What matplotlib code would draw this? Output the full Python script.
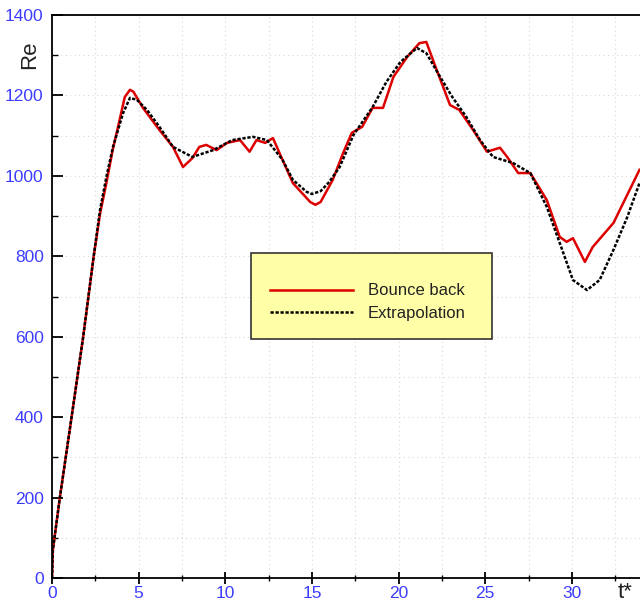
import matplotlib.pyplot as plt
from matplotlib.patches import Rectangle
from matplotlib.ticker import MultipleLocator

plt.rcParams['font.family'] = ['Liberation Sans', 'DejaVu Sans']

# Bounce back (red)
t_bb = [0, 0.05, 0.46, 1.13, 1.8, 2.4, 2.77, 3.15, 3.5, 3.8, 4.2, 4.5, 4.7, 5.25,
        6.2, 6.98, 7.56, 8.1, 8.5, 8.9, 9.5, 10.1, 10.85, 11.4, 11.8, 12.3, 12.75,
        13.3, 13.9, 14.9, 15.2, 15.5, 16.2, 16.8, 17.3, 17.9, 18.5, 19.1, 19.7,
        20.5, 21.2, 21.6, 22.2, 22.97, 23.5, 24.3, 25.1, 25.85, 26.25, 26.9, 27.6,
        28.55, 29.3, 29.7, 30.06, 30.75, 31.2, 32.4, 33.9]
re_bb = [0, 70, 202, 400, 600, 798, 905, 985, 1064, 1120, 1196, 1214, 1209, 1169,
         1114, 1072, 1022, 1044, 1072, 1077, 1064, 1082, 1089, 1060, 1089, 1082, 1094,
         1040, 982, 935, 928, 935, 990, 1057, 1107, 1122, 1169, 1169, 1246,
         1296, 1330, 1333, 1263, 1176, 1164, 1114, 1060, 1070, 1048, 1007, 1007,
         940, 848, 836, 845, 786, 823, 883, 1015]

# Extrapolation (black dashed)
t_ex = [0, 0.05, 0.46, 1.13, 1.8, 2.4, 2.77, 3.15, 3.52, 4.1, 4.5, 4.9, 5.48,
        6.2, 6.98, 8.1, 9.3, 10.4, 11.6, 12.4, 13.3, 13.9, 14.7, 15.0, 15.5, 16.0,
        16.6, 17.4, 18.5, 19.3, 20.1, 21.06, 21.6, 22.4, 23.1, 23.9, 24.7, 25.45,
        26.6, 27.6, 28.55, 29.3, 30.06, 30.87, 31.6, 32.4, 33.2, 33.9]
re_ex = [0, 70, 202, 400, 600, 798, 915, 1000, 1072, 1156, 1194, 1189, 1164,
         1122, 1072, 1047, 1064, 1089, 1097, 1089, 1040, 990, 960, 955, 962, 985,
         1022, 1102, 1171, 1234, 1283, 1318, 1305, 1246, 1196, 1147, 1089, 1047,
         1032, 1007, 923, 833, 741, 716, 741, 816, 898, 982]

blue = '#3c3cff'

fig = plt.figure(figsize=(6.4, 6.07), dpi=100)
ax = fig.add_axes([52 / 640, 29 / 607, 588 / 640, 563 / 607])

ax.plot(t_bb, re_bb, color='#dd0000', lw=1.8, label='Bounce back')
ax.plot(t_ex, re_ex, color='black', lw=1.8, dashes=(1.3, 0.7), label='Extrapolation')

ax.set_xlim(0, 33.93)
ax.set_ylim(0, 1400)
ax.xaxis.set_major_locator(MultipleLocator(5))
ax.xaxis.set_minor_locator(MultipleLocator(2.5))
ax.yaxis.set_major_locator(MultipleLocator(200))
ax.yaxis.set_minor_locator(MultipleLocator(100))

ax.grid(True, which='both', color='#d8d8d8', linestyle=(0, (1, 3)), linewidth=0.8)
ax.set_axisbelow(True)

ax.spines['right'].set_visible(False)
for s in ['left', 'bottom', 'top']:
    ax.spines[s].set_linewidth(1.3)

ax.tick_params(axis='x', which='major', direction='inout', length=8, width=1.3,
               labelcolor=blue, labelsize=12.5, pad=2)
ax.tick_params(axis='x', which='minor', direction='inout', length=5, width=1)
ax.tick_params(axis='y', which='major', direction='in', length=8, width=1.3,
               labelcolor=blue, labelsize=12.5, pad=6)
ax.tick_params(axis='y', which='minor', direction='in', length=4, width=1)

fig.text(30 / 640, 1 - 55 / 607, 'Re', rotation=90, fontsize=16, color='#222222',
         ha='center', va='center')
fig.text(625 / 640, 1 - 592 / 607, 't*', fontsize=16, color='#222222',
         ha='center', va='center')

# legend box
ax.add_patch(Rectangle((0.338, 0.4245), 0.41, 0.1525, transform=ax.transAxes,
                       facecolor='#ffffa8', edgecolor='#333333', lw=1.2, zorder=5))
leg = ax.legend(loc='center', bbox_to_anchor=(0.537, 0.49), frameon=False,
                fontsize=12, handlelength=5.0, handletextpad=0.9, labelspacing=0.45)
leg.set_zorder(6)
for txt in leg.get_texts():
    txt.set_color('#222222')

fig.savefig('out.png', dpi=100)
